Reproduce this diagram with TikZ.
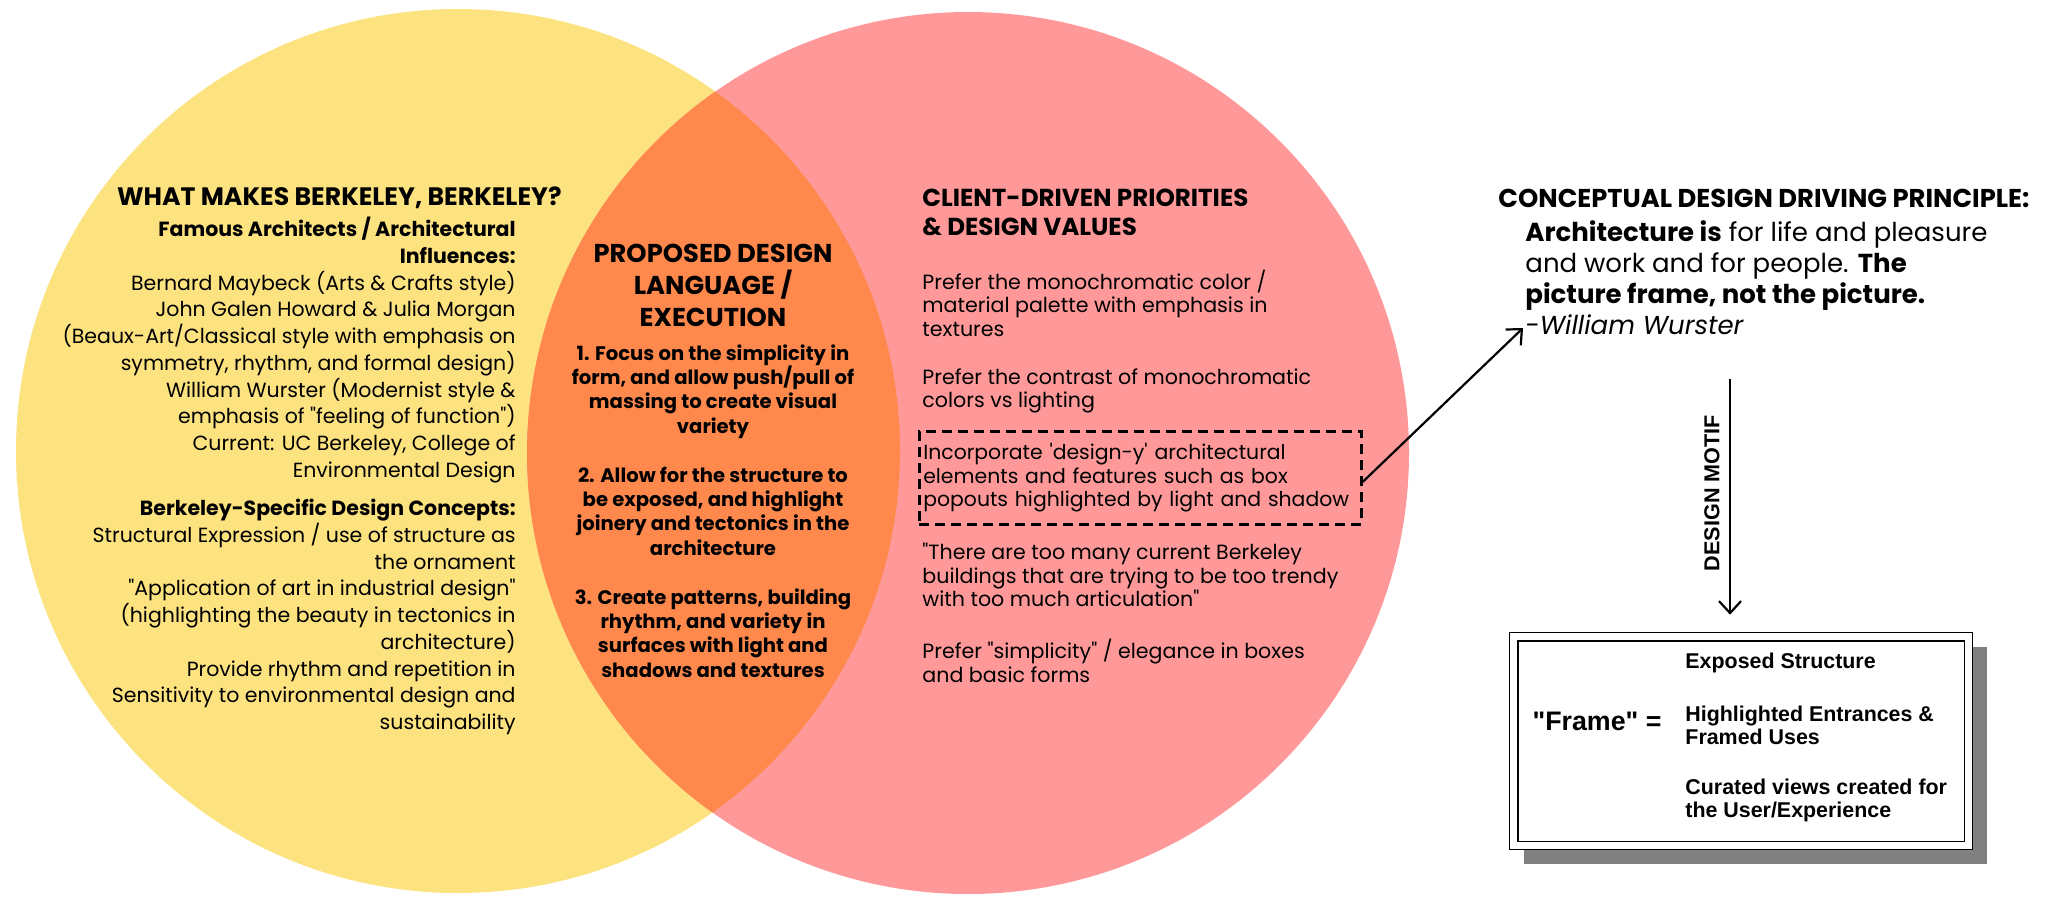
\documentclass[tikz,border=0pt]{standalone}
\usepackage{fontspec}
\setmainfont{Poppins}[Ligatures=TeXOff]
\newfontfamily\arialfont{Liberation Sans}[Ligatures=TeXOff]
\usepackage{tikz}
\usetikzlibrary{positioning,arrows.meta,shadows}

\definecolor{berkyellow}{RGB}{253,226,128}
\definecolor{clientpink}{RGB}{255,153,153}
\definecolor{mixorange}{RGB}{255,137,77}

\tikzset{
	heading/.style={font=\bfseries\fontsize{12.6}{14.5}\selectfont,inner sep=0pt},
	leftbody/.style={align=right,font=\fontsize{10.25}{13.35}\selectfont,inner sep=0pt},
	midbody/.style={align=center,font=\bfseries\fontsize{9.8}{12.2}\selectfont,inner sep=0pt},
	rightbody/.style={align=left,font=\fontsize{10.3}{11.75}\selectfont,inner sep=0pt},
	dashbox/.style={draw,dash pattern=on 5pt off 3pt,line width=1.3pt,align=left,
		font=\fontsize{10.2}{11.75}\selectfont,inner xsep=2pt,inner ysep=6pt,text width=217pt},
	boxtxt/.style={align=left,font=\arialfont\bfseries\fontsize{10.7}{11.5}\selectfont,inner sep=0pt},
	pointer/.style={-{Straight Barb[length=6pt,width=11pt]},line width=1.1pt},
}

\begin{document}
\begin{tikzpicture}[x=0.5pt,y=-0.5pt]
	\useasboundingbox (0,0) rectangle (2048,896);
	% venn circles
	\fill[berkyellow] (458,451) circle (442);
	\fill[clientpink] (968,453) circle (441);
	\begin{scope}
		\clip (458,451) circle (442);
		\fill[mixorange] (968,453) circle (441);
	\end{scope}

	% left circle
	\node(berk) [heading,anchor=east] at (562,198) {WHAT MAKES BERKELEY, BERKELEY?};
	\node(berkbody) [leftbody,anchor=east] at (516,476) {%
		\textbf{Famous Architects / Architectural}\\
		\textbf{Influences:}\\
		Bernard Maybeck (Arts \& Crafts style)\\
		John Galen Howard \& Julia Morgan\\
		(Beaux-Art/Classical style with emphasis on\\
		symmetry, rhythm, and formal design)\\
		William Wurster (Modernist style \&\\
		emphasis of "feeling of function")\\
		Current: UC Berkeley, College of\\
		Environmental Design\\[6pt]
		\textbf{Berkeley-Specific Design Concepts:}\\
		Structural Expression / use of structure as\\
		the ornament\\
		"Application of art in industrial design"\\
		(highlighting the beauty in tectonics in\\
		architecture)\\
		Provide rhythm and repetition in\hspace*{0.35em}\\
		Sensitivity to environmental design and\\
		sustainability};

	% overlap
	\node(lang) [heading,align=center,font=\bfseries\fontsize{12.9}{16}\selectfont] at (713,285)
		{PROPOSED DESIGN\\LANGUAGE /\\EXECUTION};
	\node(langbody) [midbody] at (713,511) {%
		1. Focus on the simplicity in\\
		form, and allow push/pull of\\
		massing to create visual\\
		variety\\[12.2pt]
		2. Allow for the structure to\\
		be exposed, and highlight\\
		joinery and tectonics in the\\
		architecture\\[12.2pt]
		3. Create patterns, building\\
		rhythm, and variety in\\
		surfaces with light and\\
		shadows and textures};

	% right circle
	\node(client) [heading,font=\bfseries\fontsize{12.3}{14.5}\selectfont,align=left,anchor=west] at (922,212)
		{CLIENT-DRIVEN PRIORITIES\\\& DESIGN VALUES};
	\node(mono) [rightbody,anchor=west] at (922,303)
		{Prefer the monochromatic color /\\material palette with emphasis in\\textures};
	\node(contrast) [rightbody,anchor=west] at (922,391)
		{Prefer the contrast of monochromatic\\colors vs lighting};
	\node(designy) [dashbox,anchor=west] at (918,478)
		{Incorporate 'design-y' architectural\\elements and features such as box\\popouts highlighted by light and shadow};
	\node(trendy) [rightbody,anchor=west] at (922,575)
		{"There are too many current Berkeley\\buildings that are trying to be too trendy\\with too much articulation"};
	\node(simple) [rightbody,anchor=west] at (922,661)
		{Prefer "simplicity" / elegance in boxes\\and basic forms};

	% principle
	\node(principle) [heading,font=\bfseries\fontsize{12.9}{14.5}\selectfont,anchor=west] at (1498,198) {CONCEPTUAL DESIGN DRIVING PRINCIPLE:};
	\node(quote) [align=left,anchor=west,inner sep=0pt,font=\fontsize{13}{15.5}\selectfont] at (1525,278)
		{\textbf{Architecture is} for life and pleasure\\
		and work and for people. \textbf{The}\\
		\textbf{picture frame, not the picture.}\\
		\textit{-William Wurster}};
	\coordinate(quotetip) at (1523,328);
	\draw[pointer] ([yshift=-2pt]designy.east) -- (quotetip);

	% frame box
	\node(frame) [draw,fill=white,line width=0.8pt,minimum width=231.5pt,minimum height=108.5pt,
		drop shadow={shadow xshift=7pt,shadow yshift=-7pt,fill=black!50,opacity=1}] at (1741,741) {};
	\draw[line width=0.8pt] ([shift={(9,9)}]frame.north west) rectangle ([shift={(-9,-9)}]frame.south east);
	\coordinate(motiftop) at (1730,379);
	\draw[pointer] (motiftop) -- ([yshift=8.5pt]motiftop |- frame.north);
	\node(motif) [rotate=90,font=\arialfont\bfseries\fontsize{10.8}{12}\selectfont,inner sep=0pt] at (1712,493) {DESIGN MOTIF};

	\node(frameword) [font=\arialfont\bfseries\fontsize{13.4}{14}\selectfont,inner sep=0pt] at (1597,721) {"Frame" =};
	\node(exposed) [boxtxt,anchor=west] at (1685,663) {Exposed Structure};
	\node(entrance) [boxtxt,anchor=west] at (1685,725) {Highlighted Entrances \&\\Framed Uses};
	\node(curated) [boxtxt,anchor=west] at (1685,800) {Curated views created for\\the User/Experience};
\end{tikzpicture}
\end{document}
